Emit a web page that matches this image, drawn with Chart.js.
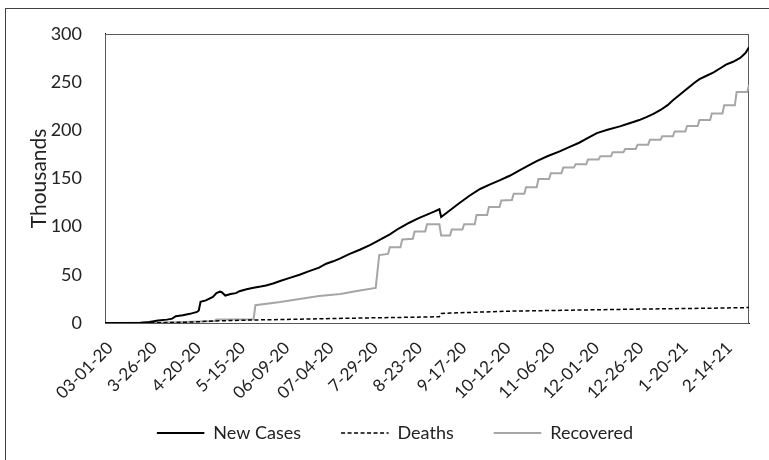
<!DOCTYPE html>
<html><head><meta charset="utf-8">
<script src="https://cdn.jsdelivr.net/npm/chart.js@4.4.0/dist/chart.umd.min.js"></script>
<style>
html,body{margin:0;padding:0;background:#fff;overflow:hidden;}
#wrap{width:769px;height:460px;position:relative;overflow:hidden;}
#frame{position:absolute;left:5px;top:8px;width:800px;height:500px;border-top:1px solid #404040;border-left:1px solid #404040;pointer-events:none;}
canvas{position:absolute;left:0;top:0;}
</style>
</head><body><div id="wrap"><canvas id="c" width="769" height="460"></canvas><div id="frame"></div></div>
<script>
// x = days since 03-01-20
const tickDays = [0,25,50,75,100,125,150,175,200,225,250,275,300,325,350];
const tickLabels = ["03-01-20","3-26-20","4-20-20","5-15-20","06-09-20","07-04-20","7-29-20","8-23-20","9-17-20","10-12-20","11-06-20","12-01-20","12-26-20","1-20-21","2-14-21"];

const casesDays = [0,10,20,25,30,35,38,40,44,48,52,53,54,57,61,63,65,66,68,71,74,76,80,84,88,91,95,99,104,110,115,121,125,129,133,138,144,150,155,161,166,172,177,182,186,189,190,195,200,206,212,218,223,229,234,240,244,250,257,263,268,273,278,284,291,296,302,306,310,314,318,321,325,329,333,336,340,344,348,351,355,359,362,364];
const casesValues = [0,0,0.3,1,2.5,3.5,4.5,7,8,9.5,11.5,13,22,23.5,27,31,32.5,32,28.5,30,31,33,35,36.5,37.8,39,41,43.5,46.5,50,53.5,57.5,61.5,64,67,71.5,76,81,86,92,98,104,108.5,112.5,115.5,118,110,117,124,132,139,144,148,153,158,164,168,173,178,183,187,192,197,200.5,204,207,210.5,213.5,217,221,226,231,237,243,249,253,256.5,260,264.5,268,271,275,280,286];

const deathDays = [0,30,45,55,65,80,100,120,140,160,175,189,190,195,210,229,250,280,310,340,364];
const deathValues = [0,0.2,0.8,1.5,2.3,3,3.6,4.3,5,5.6,6,6.5,9.8,10.3,11.2,12.3,12.9,13.8,14.6,15.3,16];

const recDays = [0,29,45,62,63,84,85,99,110,121,133,144,153,155,160,161,167,168,174,175,181,182,189,190,195,196,202,203,209,210,216,217,223,224,230,231,237,238,244,245,251,252,258,259,265,266,272,273,279,280,286,287,293,294,300,301,307,308,314,315,321,322,328,329,335,336,342,343,349,350,356,357,363,364];
const recValues = [0,0.3,1,2,3.7,4,18.4,21.7,25,28,30,33.7,36.4,70.4,71.7,78.6,78.6,86.7,87.4,95,95,102.4,102.4,90.8,90.8,97,97,102.4,102.4,112,112,120.4,120.4,127.2,127.5,134,134,140.8,140.8,149.3,149.3,155.4,155.4,161.2,161.2,164.6,164.6,169.7,169.7,173.1,173.1,177.2,177.2,180.6,180.6,185,185,190.1,190.1,193.6,193.6,198.7,198.7,204.4,204.4,210.5,210.5,217.3,217.3,225.8,225.8,239.5,239.5,247];

const seriesNames = ["New Cases","Deaths","Recovered"];
const yTitle = "Thousands";

const pts = (xs, ys) => xs.map((x, i) => ({x: x, y: ys[i]}));
const FONT = "Lato, 'Open Sans', sans-serif";
const TXT = '#222';

const plotBox = {
  id: 'plotBox',
  beforeDraw(chart) {
    // let the rotated x tick labels run below the axis box
    chart.scales.x._computeLabelArea = () => undefined;
  },
  beforeDatasetsDraw(chart) {
    const a = chart.chartArea, ctx = chart.ctx;
    ctx.save();
    ctx.strokeStyle = '#595959';
    ctx.lineWidth = 1;
    ctx.strokeRect(Math.round(a.left) + 0.5, Math.round(a.top) + 0.5, Math.round(a.right - a.left) - 1, Math.round(a.bottom - a.top));
    ctx.restore();
  }
};

new Chart(document.getElementById('c'), {
  type: 'line',
  data: {
    datasets: [
      {label: seriesNames[0], data: pts(casesDays, casesValues), borderColor: '#000', backgroundColor: 'rgba(0,0,0,0)', borderWidth: 2, pointRadius: 0, tension: 0, fill: false},
      {label: seriesNames[1], data: pts(deathDays, deathValues), borderColor: '#000', backgroundColor: 'rgba(0,0,0,0)', borderWidth: 1.5, borderDash: [4, 2.5], pointRadius: 0, tension: 0, fill: false},
      {label: seriesNames[2], data: pts(recDays, recValues), borderColor: '#a6a6a6', backgroundColor: 'rgba(0,0,0,0)', borderWidth: 2, pointRadius: 0, tension: 0, fill: false}
    ]
  },
  options: {
    responsive: false,
    animation: false,
    devicePixelRatio: 1,
    layout: {padding: {left: 41, right: 20, top: 29, bottom: 8}},
    plugins: {
      tooltip: {enabled: false},
      legend: {
        position: 'bottom',
        labels: {
          boxWidth: 47.5, boxHeight: 0,
          padding: 40, color: TXT, font: {family: FONT, size: 18}
        }
      }
    },
    scales: {
      x: {
        type: 'linear', min: 0, max: 364,
        afterBuildTicks: s => { s.ticks = tickDays.map(v => ({value: v})); },
        afterFit: s => { s.height = 61; },
        grid: {display: false, drawTicks: false},
        border: {display: true, color: '#000', width: 1},
        ticks: {
          autoSkip: false, minRotation: 45, maxRotation: 45, padding: 15, labelOffset: 5,
          color: TXT, font: {family: FONT, size: 17},
          callback: (v, i) => tickLabels[i]
        }
      },
      y: {
        min: 0, max: 300,
        afterFit: s => { s.width = 64; },
        grid: {display: false, drawTicks: false},
        border: {display: true, color: '#000', width: 1},
        ticks: {stepSize: 50, padding: 23, color: TXT, font: {family: FONT, size: 18}},
        title: {display: true, text: yTitle, color: TXT, font: {family: FONT, size: 21}, padding: {top: -14.5, bottom: 0}}
      }
    }
  },
  plugins: [plotBox]
});
</script>
</body></html>
